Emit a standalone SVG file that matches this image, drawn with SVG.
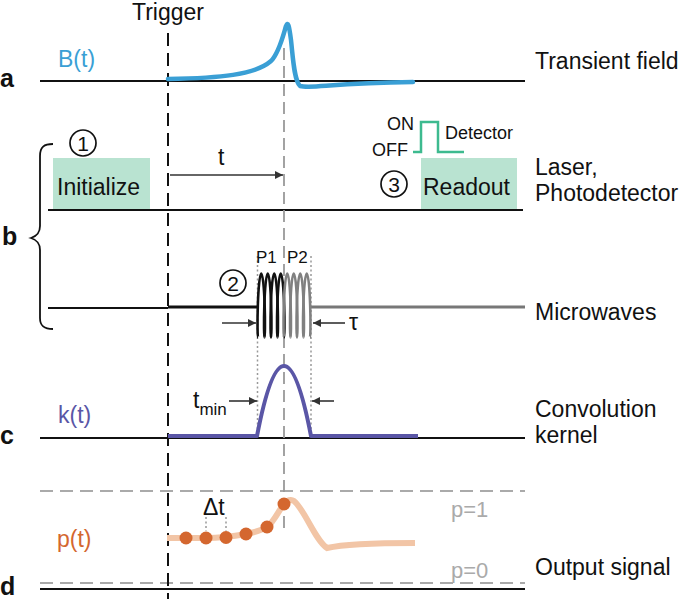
<svg xmlns="http://www.w3.org/2000/svg" width="685" height="599" viewBox="0 0 685 599">
<style>
text{font-family:"Liberation Sans",Arial,sans-serif;font-size:23px;fill:#111}
.lt{font-weight:bold;font-size:25px}
.sm{font-size:18px}
.axis{stroke:#111;stroke-width:2;fill:none}
.gdash{stroke:#aaa;stroke-width:1.8;stroke-dasharray:13 7;fill:none}
.dot{stroke:#999;stroke-width:1.5;stroke-dasharray:2 2.5;fill:none}
.arr{stroke:#333;stroke-width:1.6;fill:none;marker-end:url(#ah)}
.num{fill:none;stroke:#111;stroke-width:1.7}
.nt{font-size:21px;text-anchor:middle}
.box{fill:#b9e3d1}
</style>
<defs>
<marker id="ah" viewBox="0 0 10 10" refX="10" refY="5" markerWidth="14" markerHeight="8" markerUnits="userSpaceOnUse" orient="auto"><path d="M0,0 L10,5 L0,10 Z" fill="#333"/></marker>
<path id="turn" d="M0,32 C-0.423,32 -0.746,17.67 -0.175,0 C0.396,-17.67 1.685,-32 3.25,-32 C4.815,-32 6.104,-17.67 6.675,0 C7.246,17.67 6.923,32 6.5,32" fill="none" stroke-width="2.6"/>
</defs>

<g id="connectors">
<line class="axis" x1="40" y1="81" x2="525" y2="81"/>
<line class="axis" x1="48" y1="210" x2="523" y2="210"/>
<line class="axis" x1="48" y1="308" x2="168" y2="308"/>
<line class="axis" x1="40" y1="438" x2="525" y2="438"/>
<line class="axis" x1="40" y1="589" x2="525" y2="589"/>
<line class="gdash" x1="40" y1="491" x2="525" y2="491"/>
<line class="gdash" x1="40" y1="583" x2="525" y2="583"/>
<line x1="168" y1="33" x2="168" y2="599" stroke="#111" stroke-width="2" stroke-dasharray="13 7"/>
<line x1="284" y1="48" x2="284" y2="528" stroke="#999" stroke-width="1.8" stroke-dasharray="12 6"/>
<line class="dot" x1="257.5" y1="256" x2="257.5" y2="437"/>
<line class="dot" x1="311" y1="256" x2="311" y2="437"/>
<line class="dot" x1="206" y1="517" x2="206" y2="531"/>
<line class="dot" x1="226" y1="517" x2="226" y2="531"/>
<line class="arr" x1="170" y1="175" x2="283" y2="175"/>
<line class="arr" x1="222" y1="323" x2="256" y2="323"/>
<line class="arr" x1="345" y1="323" x2="313" y2="323"/>
<line class="arr" x1="229" y1="401" x2="257" y2="401"/>
<line class="arr" x1="334" y1="401" x2="312" y2="401"/>
<path d="M53,144 C44,144 40,147 40,156 L40,226 C40,233 37,236 31,238 C37,240 40,243 40,250 L40,318 C40,326 44,329 53,329" fill="none" stroke="#111" stroke-width="1.8"/>
</g>

<g id="transient-field">
<text class="lt" x="0" y="87">a</text>
<text x="58" y="67" style="fill:#3a9fd5">B(t)</text>
<path d="M168,79 C220,78 255,75 271,61 C279,53 283,36 286,26 C288,21 289,25 291,40 C293,58 294,80 300,86 C312,89 330,83 413,82" fill="none" stroke="#3a9fd5" stroke-width="4.5" stroke-linecap="round" stroke-linejoin="round"/>
<text x="535" y="69">Transient field</text>
<text x="132" y="20">Trigger</text>
</g>

<g id="laser">
<rect class="box" x="53" y="158" width="97" height="51"/>
<text x="57" y="195">Initialize</text>
<circle class="num" cx="83" cy="143" r="13"/>
<text class="nt" x="83" y="150.5">1</text>
<text x="218" y="165">t</text>
<rect class="box" x="421" y="158" width="96" height="51"/>
<text x="423" y="195">Readout</text>
<circle class="num" cx="394" cy="184" r="13"/>
<text class="nt" x="394" y="191.5">3</text>
<path d="M413,152 L421,152 L421,122 L438,122 L438,152 L464,152" fill="none" stroke="#3dba8f" stroke-width="2.5"/>
<text class="sm" x="387" y="130">ON</text>
<text class="sm" x="372" y="156">OFF</text>
<text class="sm" x="445" y="139">Detector</text>
<text x="535" y="175">Laser,</text>
<text x="535" y="201">Photodetector</text>
</g>

<g id="brace-label">
<text class="lt" x="2" y="245">b</text>
</g>

<g id="microwaves">
<line x1="168" y1="307" x2="258" y2="307" stroke="#111" stroke-width="3"/>
<line x1="311" y1="307" x2="525" y2="307" stroke="#777" stroke-width="3"/>
<g stroke="#111">
<use href="#turn" x="258" y="305.5"/>
<use href="#turn" x="264.5" y="305.5"/>
<use href="#turn" x="271" y="305.5"/>
<use href="#turn" x="277.5" y="305.5"/>
</g>
<g stroke="#808080">
<use href="#turn" x="284" y="305.5"/>
<use href="#turn" x="290.5" y="305.5"/>
<use href="#turn" x="297" y="305.5"/>
<use href="#turn" x="303.5" y="305.5"/>
</g>
<text x="256" y="263" style="font-size:17px">P1</text>
<text x="287" y="263" style="font-size:17px">P2</text>
<circle class="num" cx="233" cy="283" r="13"/>
<text class="nt" x="233" y="290.5">2</text>
<text x="349" y="330">τ</text>
<text x="535" y="320">Microwaves</text>
</g>

<g id="kernel">
<text class="lt" x="0" y="444">c</text>
<text x="58" y="423" style="fill:#5a56a6">k(t)</text>
<path d="M168,436 L257,436 Q284,296 311,436 L418,436" fill="none" stroke="#5a56a6" stroke-width="4" stroke-linejoin="round"/>
<text x="193" y="408">t<tspan style="font-size:17px" dy="7">min</tspan></text>
<text x="535" y="417">Convolution</text>
<text x="535" y="443">kernel</text>
</g>

<g id="output">
<text class="lt" x="0" y="595">d</text>
<text x="57" y="547" style="fill:#d4672f">p(t)</text>
<path d="M167,538 L206,538 C220,538 235,536 246,534 C256,532 262,530 267,527 C274,522 279,510 284,504 C287,500 291,499 294,501 C305,510 315,540 327,548 C340,545 370,543 415,543" fill="none" stroke="#f2c5a6" stroke-width="6" stroke-linecap="butt"/>
<g fill="#d4672f">
<circle cx="186" cy="538" r="6.5"/>
<circle cx="206" cy="538" r="6.5"/>
<circle cx="226" cy="537.5" r="6.5"/>
<circle cx="246" cy="534" r="6.5"/>
<circle cx="267" cy="527" r="6.5"/>
<circle cx="284" cy="504" r="6.5"/>
</g>
<text x="203" y="515">Δt</text>
<text x="451" y="517" style="fill:#aaa;font-size:22px">p=1</text>
<text x="451" y="578" style="fill:#aaa;font-size:22px">p=0</text>
<text x="535" y="575">Output signal</text>
</g>
</svg>
